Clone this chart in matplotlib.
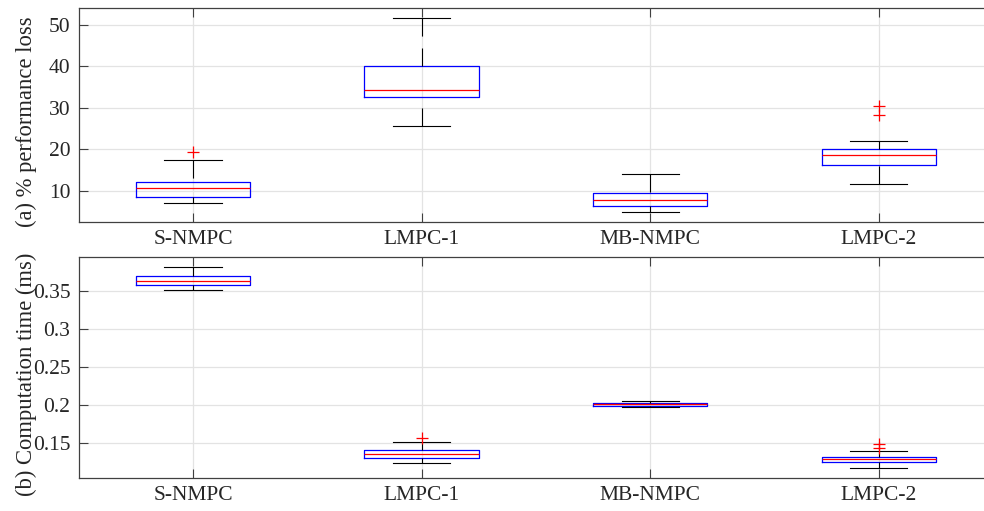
import matplotlib
matplotlib.use("Agg")
import matplotlib.pyplot as plt

plt.rcParams['font.family'] = ['Liberation Serif', 'DejaVu Serif']
plt.rcParams['lines.scale_dashes'] = False

categories = ["S-NMPC", "LMPC-1", "MB-NMPC", "LMPC-2"]

# (a) % performance loss : [lower whisker, Q1, median, Q3, upper whisker]
perf_whislo = [7.1, 25.7, 4.85, 11.8]
perf_q1 = [8.6, 32.6, 6.4, 16.3]
perf_med = [10.8, 34.4, 7.75, 18.6]
perf_q3 = [12.25, 40.2, 9.4, 20.2]
perf_whishi = [17.4, 51.7, 14.0, 22.0]
perf_fliers = [[19.3], [], [], [30.5, 28.3]]

# (b) Computation time (ms)
time_whislo = [0.3513, 0.1238, 0.1976, 0.1172]
time_q1 = [0.3579, 0.1308, 0.1985, 0.1247]
time_med = [0.3622, 0.1356, 0.2007, 0.1286]
time_q3 = [0.3692, 0.1404, 0.2020, 0.1317]
time_whishi = [0.3814, 0.1517, 0.2055, 0.1395]
time_fliers = [[], [0.1561], [], [0.1487, 0.1434]]

perf_yticks = [10, 20, 30, 40, 50]
time_yticks = [0.15, 0.2, 0.25, 0.3, 0.35]
time_yticklabels = ["0.15", "0.2", "0.25", "0.3", "0.35"]

TXT = '#262626'


def make_stats(lo, q1, med, q3, hi, fl):
    return [dict(whislo=a, q1=b, med=c, q3=d, whishi=e, fliers=f, label=lab)
            for a, b, c, d, e, f, lab in zip(lo, q1, med, q3, hi, fl, categories)]


fig = plt.figure(figsize=(9.84, 5.11), dpi=100)
W, H = 984.0, 511.0
left = 78.7 / W
width = (993.0 - 78.7) / W
ax1 = fig.add_axes([left, 1 - 222.0 / H, width, (222.0 - 8.3) / H])
ax2 = fig.add_axes([left, 1 - 478.0 / H, width, (478.0 - 256.7) / H])


def draw(ax, stats, ylim, yticks, yticklabels, ylabel):
    ax.set_axisbelow(True)
    ax.grid(True, color='#e3e3e3', linewidth=0.9)
    r = ax.bxp(stats, positions=[1, 2, 3, 4], widths=0.5, showfliers=True,
               boxprops=dict(color='#0000ff', linewidth=0.9),
               medianprops=dict(color='#ff0000', linewidth=0.9),
               whiskerprops=dict(color='#000000', linewidth=0.8,
                                 linestyle=(0, (13, 8.6))),
               capprops=dict(color='#000000', linewidth=0.8),
               flierprops=dict(marker='+', markeredgecolor='#ff0000',
                               markersize=8, markeredgewidth=0.9,
                               linestyle='none'))
    # dashes start from the caps, as in the reference
    for w in r['whiskers']:
        xd, yd = w.get_data()
        w.set_data(list(xd)[::-1], list(yd)[::-1])
    ax.set_xlim(0.5, 4.5)
    ax.set_ylim(*ylim)
    ax.set_yticks(yticks)
    ax.set_yticklabels(yticklabels)
    ax.set_xticks([1, 2, 3, 4])
    ax.set_xticklabels(categories)
    ax.tick_params(axis='both', direction='in', length=6.5, width=0.8,
                   colors='#404040', labelcolor=TXT, labelsize=15.5,
                   top=True, right=True)
    ax.tick_params(axis='x', pad=6)
    ax.tick_params(axis='y', pad=6)
    for s in ax.spines.values():
        s.set_color('#404040')
        s.set_linewidth(0.9)
    ax.set_ylabel(ylabel, fontsize=16.3, color=TXT)
    ax.yaxis.set_label_coords(-0.046, 0.47)


draw(ax1, make_stats(perf_whislo, perf_q1, perf_med, perf_q3, perf_whishi, perf_fliers),
     (2.53, 54.0), perf_yticks, [str(v) for v in perf_yticks], "(a) % performance loss")
draw(ax2, make_stats(time_whislo, time_q1, time_med, time_q3, time_whishi, time_fliers),
     (0.1041, 0.3945), time_yticks, time_yticklabels, "(b) Computation time (ms)")

fig.savefig("out.png", dpi=100)
